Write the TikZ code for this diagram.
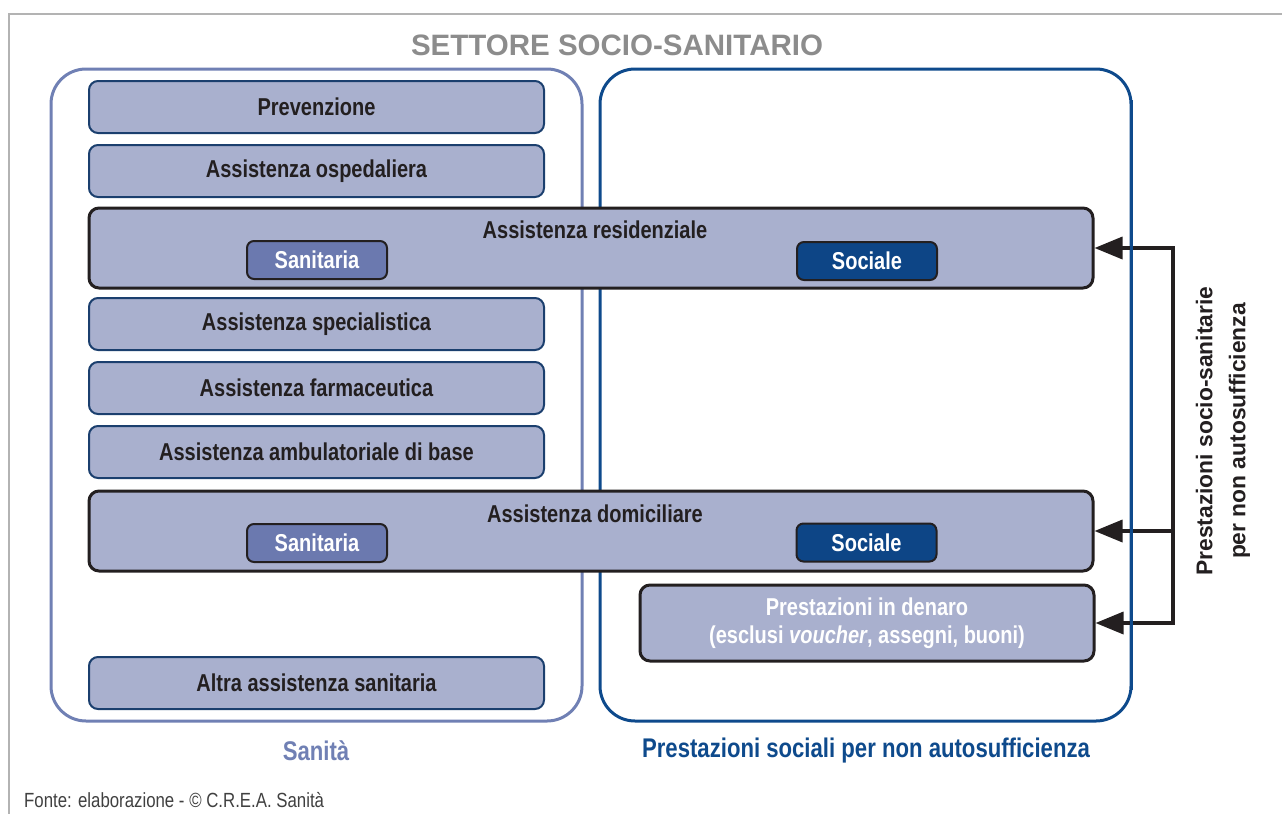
\documentclass[tikz,border=0pt]{standalone}
\usepackage{fontspec}
\setmainfont{Liberation Sans}
\newfontfamily\cond[FakeStretch=0.82]{Liberation Sans}
\usetikzlibrary{arrows.meta}
\definecolor{boxfill}{HTML}{A9B0CE}
\definecolor{boxline}{HTML}{1B3F6E}
\definecolor{leftc}{HTML}{7080B4}
\definecolor{rightc}{HTML}{0E4A8C}
\definecolor{sanfill}{HTML}{6B79AF}
\definecolor{socfill}{HTML}{0D4586}
\definecolor{txt}{HTML}{231F20}
\definecolor{titlegray}{HTML}{8C8C8C}
\definecolor{framegray}{HTML}{B3B3B3}
\definecolor{footgray}{HTML}{404040}
\tikzset{
  boxfont/.style={font=\cond\bfseries\fontsize{24.4}{28}\selectfont},
  lbox/.style={draw=boxline, line width=2pt, fill=boxfill, rounded corners=9pt,
    minimum width=455pt, minimum height=52pt, inner sep=0pt, boxfont, text=txt},
  wbox/.style={draw=txt, line width=3pt, fill=boxfill, rounded corners=10pt,
    minimum width=1004pt, minimum height=80pt, inner sep=0pt},
  wtitle/.style={inner sep=0pt, boxfont, text=txt},
  subbox/.style={draw=txt, line width=2pt, rounded corners=7pt,
    minimum width=140pt, minimum height=38pt, inner sep=0pt, boxfont, text=white},
  container/.style={line width=3pt, rounded corners=35pt},
  conn/.style={draw=txt, line width=3.5pt, line join=miter},
  tip/.style={-{Triangle[length=28pt,width=22pt]}},
}
\begin{document}
\begin{tikzpicture}[x=1pt,y=-1pt]
\useasboundingbox (0,0) rectangle (1282,814);
% frame
\draw[framegray, line width=2pt] (1282,14) -- (9,14) -- (9,814);
% title
\node[font=\bfseries\fontsize{29.5}{34}\selectfont, text=titlegray] (title) at (617,45) {SETTORE SOCIO-SANITARIO};
% connectors
\coordinate (ja) at (1173,248);
\coordinate (jb) at (1173,531);
\coordinate (jc) at (1173,623);
% containers
\draw[container, leftc] (51,69) rectangle (582,721);
\draw[container, rightc] (600,69) rectangle (1131,721);
% left boxes
\node[lbox] (prev) at (316.5,107) {Prevenzione};
\node[lbox] (osp) at (316.5,171) {Assistenza ospedaliera};
\node[lbox] (spec) at (316.5,324) {Assistenza specialistica};
\node[lbox] (farm) at (316.5,388) {Assistenza farmaceutica};
\node[lbox] (amb) at (316.5,452) {Assistenza ambulatoriale di base};
\node[lbox] (altra) at (316.5,683) {Altra assistenza sanitaria};
% wide boxes
\node[wbox] (res) at (591,248) {};
\node[wtitle] (rest) at (595,230) {Assistenza residenziale};
\node[subbox, fill=sanfill] (ress) at (317,260) {Sanitaria};
\node[subbox, fill=socfill] (reso) at (867,261) {Sociale};
\node[wbox] (dom) at (591,531) {};
\node[wtitle] (domt) at (595,514) {Assistenza domiciliare};
\node[subbox, fill=sanfill] (doms) at (317,543) {Sanitaria};
\node[subbox, fill=socfill] (domo) at (866.5,542.5) {Sociale};
% denaro
\node[draw=txt, line width=3pt, fill=boxfill, rounded corners=10pt,
  minimum width=454pt, minimum height=76pt, inner sep=0pt, align=center,
  font=\cond\bfseries\fontsize{24.4}{28}\selectfont, text=white] (den) at (867,623)
  {Prestazioni in denaro\\(esclusi \textit{voucher}, assegni, buoni)};
% arrows
\draw[conn, {Triangle[length=28pt,width=22pt]}-{Triangle[length=28pt,width=22pt]}] (res.east) -- (ja) -- (jc) -- (den.east);
\draw[conn, tip] (jb) -- (dom.east);
\draw[rightc, line width=3pt] (1131,100) -- (1131,690);
% side label
\node[rotate=90, align=center, font=\bfseries\fontsize{22.8}{33}\selectfont, text=txt] (side) at (1223,431)
  {Prestazioni socio-sanitarie\\per non autosufficienza};
% bottom labels
\node[font=\cond\bfseries\fontsize{27}{31}\selectfont, text=leftc] (lsan) at (316,751) {Sanità};
\node[font=\cond\bfseries\fontsize{27}{31}\selectfont, text=rightc] (lsoc) at (866,751) {Prestazioni sociali per non autosufficienza};
% footer
\node[anchor=west, inner sep=0pt, font=\cond\fontsize{20.5}{24}\selectfont, text=footgray] (foot) at (24,800) {Fonte: elaborazione - © C.R.E.A. Sanità};
\end{tikzpicture}
\end{document}
